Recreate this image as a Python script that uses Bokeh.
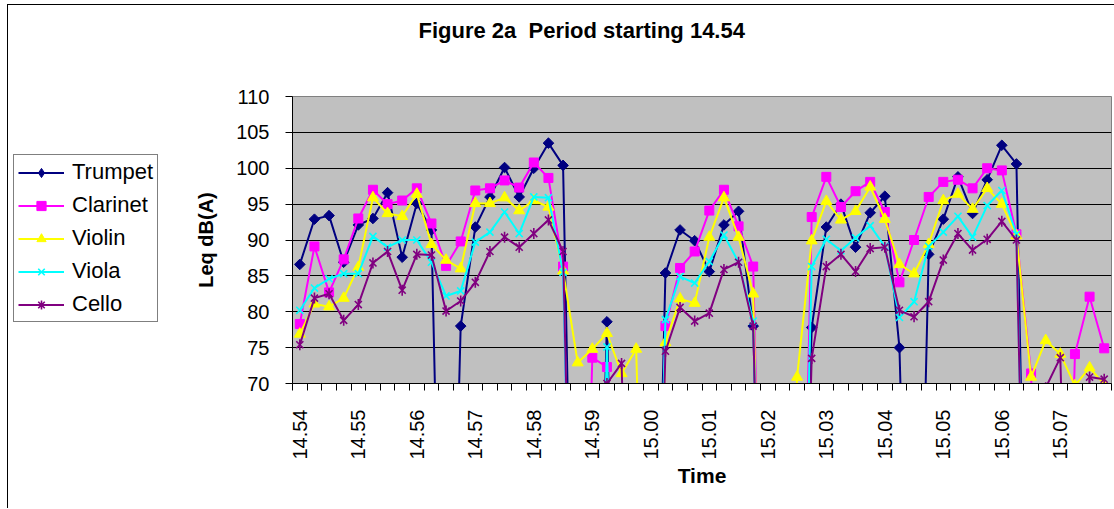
import numpy as np
from bokeh.plotting import figure
from bokeh.layouts import row
from bokeh.models import FixedTicker, Legend, LegendItem, Range1d, Title
from bokeh.embed import file_html
from bokeh.resources import INLINE

# Leq dB(A), one reading every 15 s from 14.54 to 15.07:45 (0 = no reading)
trumpet = [86.6, 92.9, 93.4, 86.9, 92.1, 93.0, 96.6, 87.6, 95.1, 91.4,
           0, 78.0, 91.8, 96.0, 100.1, 96.0, 100.0, 103.5, 100.4, 0,
           0, 78.6, 0, 0, 0, 85.4, 91.4, 89.9, 85.6, 92.1,
           94.0, 78.0, 0, 0, 0, 77.8, 91.8, 95.0, 89.0, 93.8,
           96.1, 75.0, 0, 88.0, 92.9, 98.8, 93.7, 98.4, 103.2, 100.6,
           0, 0, 0, 0, 0, 0]
clarinet = [78.3, 89.1, 82.7, 87.3, 93.0, 97.0, 95.0, 95.5, 97.2, 92.3,
            86.4, 89.8, 96.9, 97.2, 98.3, 97.3, 100.8, 98.65, 86.3, 0,
            73.6, 72.3, 0, 0, 0, 78.0, 86.1, 88.4, 94.1, 97.0,
            91.9, 86.3, 0, 0, 0, 93.2, 98.8, 94.6, 96.8, 98.1,
            93.9, 84.1, 90.0, 96.0, 98.1, 98.4, 97.2, 100.0, 99.7, 90.8,
            71.4, 0, 0, 74.1, 82.1, 74.9]
violin = [76.9, 81.1, 80.7, 81.9, 86.2, 95.9, 93.7, 93.3, 96.4, 89.4,
          87.2, 86.0, 95.1, 95.1, 95.9, 94.1, 95.5, 94.6, 85.7, 72.9,
          74.8, 77.0, 71.4, 74.8, 0, 75.7, 81.8, 81.2, 90.4, 95.9,
          90.4, 82.5, 0, 0, 70.9, 89.9, 95.4, 92.8, 94.0, 97.4,
          92.9, 86.6, 85.3, 89.4, 95.5, 96.4, 94.3, 97.2, 95.0, 90.6,
          70.9, 76.0, 74.1, 69.7, 72.2, 69.9]
viola = [80.2, 83.3, 84.6, 85.3, 85.3, 90.5, 89.0, 90.0, 90.0, 86.9,
         82.2, 82.9, 89.7, 91.1, 93.9, 90.9, 96.0, 95.9, 85.5, 0,
         0, 75.1, 0, 0, 0, 78.9, 84.9, 84.0, 87.0, 90.7,
         86.9, 78.7, 0, 0, 0, 86.3, 90.1, 88.5, 90.3, 92.0,
         89.1, 79.2, 81.4, 89.1, 91.1, 93.3, 90.4, 94.8, 96.9, 90.8,
         0, 0, 0, 0, 0, 0]
cello = [75.4, 81.9, 82.5, 78.8, 81.0, 86.8, 88.4, 83.0, 88.0, 87.9,
         80.1, 81.5, 84.1, 88.4, 90.4, 89.0, 90.9, 92.8, 88.4, 0,
         0, 70.0, 72.8, 0, 0, 74.5, 80.6, 78.7, 79.8, 85.9,
         86.9, 78.0, 0, 0, 0, 73.5, 86.3, 88.0, 85.6, 88.8,
         89.0, 80.2, 79.3, 81.4, 87.2, 90.9, 88.6, 90.1, 92.6, 90.0,
         0, 69.4, 73.6, 0, 70.9, 70.6]

minute_labels = ["14.54", "14.55", "14.56", "14.57", "14.58", "14.59", "15.00",
                 "15.01", "15.02", "15.03", "15.04", "15.05", "15.06", "15.07"]
readings_per_minute = 4
y_ticks = [70, 75, 80, 85, 90, 95, 100, 105, 110]
title_text = "Figure 2a\u00a0 Period starting 14.54"

n = len(trumpet)
x = list(range(n))

FONT = "Liberation Sans"
H = 503

# ---------------- main chart ----------------
p = figure(width=946, height=H, output_backend="svg", toolbar_location=None,
           x_range=Range1d(-0.5, n - 0.5), y_range=Range1d(70, 110),
           min_border_left=124, min_border_right=3, min_border_top=91,
           min_border_bottom=125)

# spacer title (closest to the frame) pushes the real title upward
p.add_layout(Title(text="\u00a0", standoff=26, text_font=FONT,
                   text_font_size="22px"), "above")
p.add_layout(Title(text=title_text, align="left", offset=126, standoff=2,
                   text_font=FONT, text_font_size="22px", text_font_style="bold",
                   text_color="#000000"), "above")

p.background_fill_color = "#C0C0C0"
p.border_fill_color = "white"
p.outline_line_color = "#808080"
p.xgrid.grid_line_color = None
p.ygrid.ticker = FixedTicker(ticks=y_ticks)
p.ygrid.grid_line_color = "#000000"
p.ygrid.grid_line_width = 1

ya = p.yaxis[0]
ya.ticker = FixedTicker(ticks=y_ticks)
ya.axis_line_color = "#000000"
ya.major_tick_line_color = "#000000"
ya.major_tick_out = 7
ya.major_tick_in = 0
ya.minor_tick_line_color = None
ya.major_label_text_font = FONT
ya.major_label_text_font_size = "20px"
ya.major_label_text_color = "#000000"
ya.major_label_standoff = 16
ya.axis_label = "Leq dB(A)"
ya.axis_label_text_font = FONT
ya.axis_label_text_font_size = "20px"
ya.axis_label_text_font_style = "bold"
ya.axis_label_text_color = "#000000"
ya.axis_label_standoff = 16

label_pos = [i * readings_per_minute for i in range(len(minute_labels))]
xa = p.xaxis[0]
xa.ticker = FixedTicker(ticks=label_pos, minor_ticks=[i - 0.5 for i in range(n + 1)])
xa.major_label_overrides = {pos: lbl for pos, lbl in zip(label_pos, minute_labels)}
xa.major_label_orientation = np.pi / 2
xa.axis_line_color = "#000000"
xa.major_tick_line_color = None
xa.major_tick_out = 0
xa.major_tick_in = 0
xa.minor_tick_line_color = "#000000"
xa.minor_tick_out = 7
xa.minor_tick_in = 0
xa.major_label_text_font = FONT
xa.major_label_text_font_size = "20px"
xa.major_label_text_color = "#000000"
xa.major_label_standoff = 19
xa.axis_label = "Time"
xa.axis_label_text_font = FONT
xa.axis_label_text_font_size = "21px"
xa.axis_label_text_font_style = "bold"
xa.axis_label_text_color = "#000000"
xa.axis_label_standoff = 1

series = [
    ("Trumpet", trumpet, "#000080", "square", 7.5, np.pi / 4, True),
    ("Clarinet", clarinet, "#FF00FF", "square", 9, 0.0, True),
    ("Violin", violin, "#FFFF00", "triangle", 11, 0.0, True),
    ("Viola", viola, "#00FFFF", "x", 10, 0.0, False),
    ("Cello", cello, "#800080", "x", 10, 0.0, False),
]

for name, ys, color, marker, size, angle, fill in series:
    p.line(x, ys, line_color=color, line_width=2)
    p.scatter(x, ys, marker=marker, size=size, angle=angle, line_color=color,
              fill_color=color if fill else None, line_width=1.0 if fill else 1.6)
    if name == "Cello":
        p.scatter(x, ys, marker="dash", size=11, angle=np.pi / 2,
                  line_color=color, line_width=1.6)

# ---------------- legend panel (left of the chart) ----------------
lg = figure(width=160, height=H, output_backend="svg", toolbar_location=None,
            x_range=Range1d(0, 1), y_range=Range1d(0, 1),
            x_axis_location=None, y_axis_location=None,
            min_border_left=0, min_border_right=0, min_border_top=0,
            min_border_bottom=0)
lg.xgrid.grid_line_color = None
lg.ygrid.grid_line_color = None
lg.outline_line_color = None
lg.background_fill_color = "white"
lg.border_fill_color = "white"

legend_markers = {"Trumpet": "diamond", "Clarinet": "square", "Violin": "triangle",
                  "Viola": "x", "Cello": "asterisk"}
items = []
for name, ys, color, marker, size, angle, fill in series:
    # legend swatches only: a single non-plotted (NaN) point carries the style
    ln = lg.line([np.nan], [np.nan], line_color=color, line_width=2)
    sc = lg.scatter([np.nan], [np.nan], marker=legend_markers[name], size=size + 1,
                    line_color=color, fill_color=color if fill else None,
                    line_width=1.0 if fill else 1.6)
    items.append(LegendItem(label=name, renderers=[ln, sc]))

legend = Legend(items=items, location=(5, 61))
legend.label_text_font = FONT
legend.label_text_font_size = "22px"
legend.label_text_color = "#000000"
legend.border_line_color = "#000000"
legend.border_line_width = 1
legend.background_fill_color = "white"
legend.background_fill_alpha = 1
legend.padding = 4
legend.spacing = 7
legend.margin = 0
legend.glyph_width = 46
legend.glyph_height = 23
legend.label_height = 23
legend.label_standoff = 8
lg.add_layout(legend)

page = row(lg, p, spacing=0)
page.styles = {"margin-left": "7px", "margin-top": "4px",
               "border-left": "1px solid #000000", "border-top": "1px solid #000000"}

open("out.html", "w").write(file_html(page, INLINE))
